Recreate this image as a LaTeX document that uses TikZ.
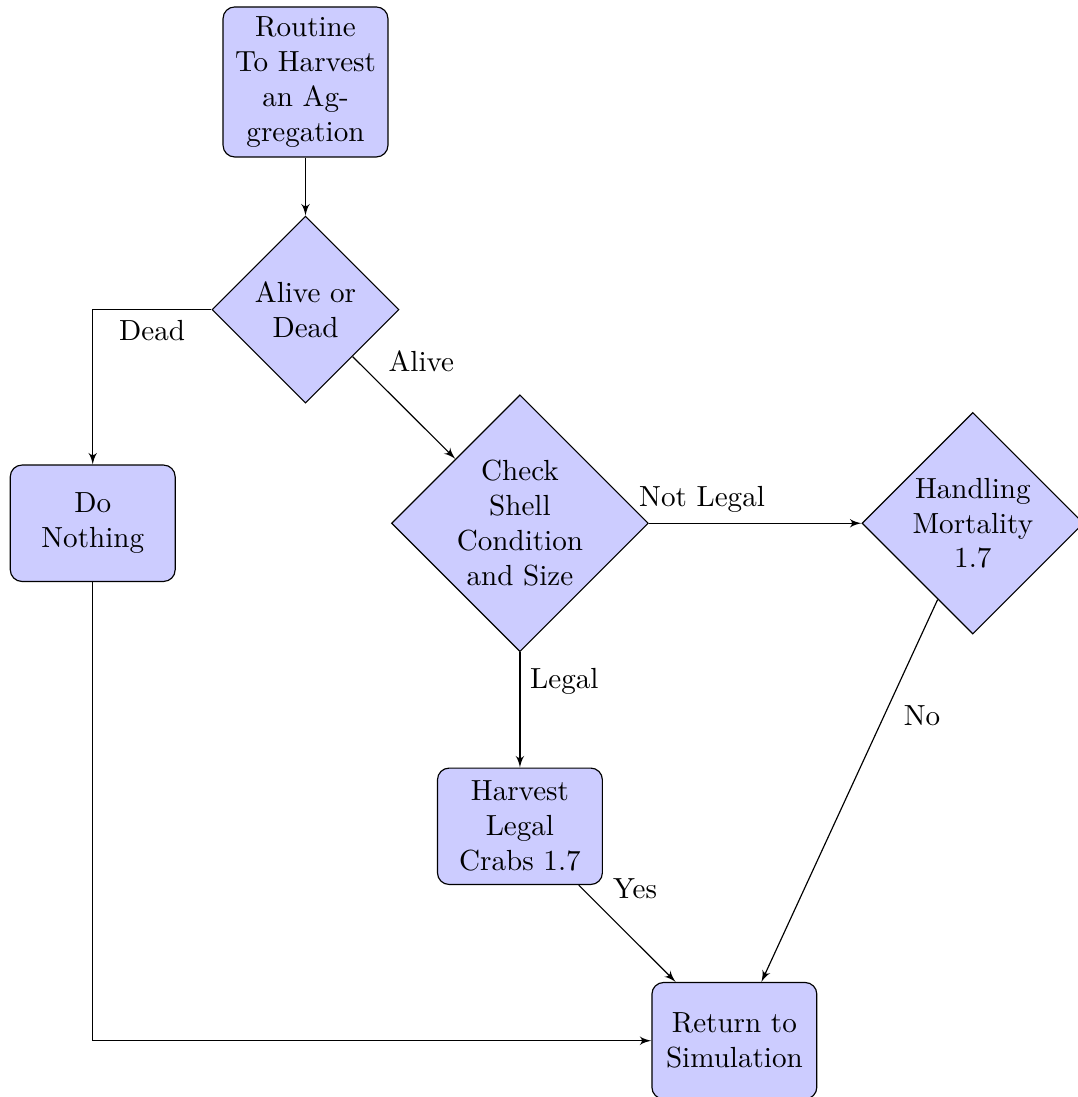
\documentclass[tikz,border=0pt]{standalone}
\usetikzlibrary{shapes.geometric,arrows}

\begin{document}
\begin{tikzpicture}[auto,
  decision/.style={diamond, draw, fill=blue!20, text width=4.5em, text badly centered, inner sep=0pt},
  block/.style={rectangle, draw, fill=blue!20, text width=5em, text centered, rounded corners, minimum height=4em},
  line/.style={draw, -latex'}]
  \useasboundingbox (0,0) rectangle (13.02,-13.25);
  \node [block] (init) at (3.69,-0.99) {Routine To Harvest an Aggregation};
  \node [decision] (alive) at (3.69,-3.74) {Alive or Dead};
  \node [block] (nothing) at (1.12,-6.32) {Do Nothing};
  \node [decision] (check) at (6.28,-6.32) {Check Shell Condition and Size};
  \node [decision] (mort) at (11.75,-6.32) {Handling Mortality 1.7};
  \node [block] (harvest) at (6.28,-9.98) {Harvest Legal Crabs 1.7};
  \node [block] (ret) at (8.87,-12.57) {Return to Simulation};
  \path [line] (init) -- (alive);
  \path [line] (alive) -| node [near start] {Dead} (nothing);
  \path [line] (alive) -- node [near start] {Alive} (check);
  \path [line] (check) -- node [near start] {Not Legal} (mort);
  \path [line] (check) -- node [near start] {Legal} (harvest);
  \path [line] (harvest) -- node [near start] {Yes} (ret);
  \path [line] (mort) -- node [near start] {No} (ret);
  \path [line] (nothing) |- (ret);
\end{tikzpicture}
\end{document}
